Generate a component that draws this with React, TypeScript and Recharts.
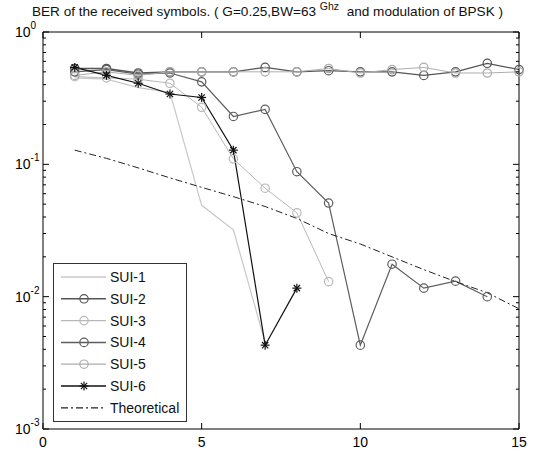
import { LineChart, Line, XAxis, YAxis } from 'recharts'

// SNR (x axis)
const snr = [1, 2, 3, 4, 5, 6, 7, 8, 9, 10, 11, 12, 13, 14, 15]

// BER, null = no point
const sui1 = [0.45, 0.44, 0.38, 0.35, 0.049, 0.032, 0.0045, null, null, null, null, null, null, null, null]
const sui2 = [0.53, 0.53, 0.49, 0.5, 0.5, 0.5, 0.54, 0.5, 0.51, 0.5, 0.5, 0.47, 0.5, 0.58, 0.52]
const sui3 = [0.46, 0.45, 0.44, 0.41, 0.27, 0.11, 0.066, 0.043, 0.013, null, null, null, null, null, null]
const sui4 = [0.5, 0.52, 0.48, 0.49, 0.42, 0.23, 0.26, 0.088, 0.051, 0.0043, 0.0176, 0.0116, 0.0131, 0.01, null]
const sui5 = [0.47, 0.5, 0.47, 0.5, 0.5, 0.5, 0.5, 0.5, 0.53, 0.49, 0.52, 0.54, 0.49, 0.49, 0.5]
const sui6 = [0.54, 0.47, 0.41, 0.34, 0.32, 0.128, 0.0043, 0.0116, null, null, null, null, null, null, null]
const theory = [0.128, 0.111, 0.094, 0.079, 0.067, 0.057, 0.048, 0.039, 0.03, 0.025, 0.02, 0.016, 0.013, 0.0107, 0.0081]

const xTicks = [0, 5, 10, 15]
const yMajor = [0.001, 0.01, 0.1, 1]
const yMinorSteps = [2, 3, 4, 5, 6, 7, 8, 9]
const yTicks = [
  ...yMajor,
  ...yMajor.slice(0, 3).flatMap((d) => yMinorSteps.map((m) => Number((d * m).toPrecision(3)))),
]

const data = snr.map((x, i) => ({
  x,
  sui1: sui1[i],
  sui2: sui2[i],
  sui3: sui3[i],
  sui4: sui4[i],
  sui5: sui5[i],
  sui6: sui6[i],
  theory: theory[i],
}))

// plot box, px
const LEFT = 43
const RIGHT = 519
const TOP = 32
const BOTTOM = 429
const FONT = '"Liberation Sans", Arial, sans-serif'

const series = [
  { key: 'sui1', name: 'SUI-1', color: '#c8c8c8', marker: 'none', width: 1.2 },
  { key: 'sui2', name: 'SUI-2', color: '#555555', marker: 'circle', width: 1.3 },
  { key: 'sui3', name: 'SUI-3', color: '#b8b8b8', marker: 'circle', width: 1 },
  { key: 'sui4', name: 'SUI-4', color: '#5e5e5e', marker: 'circle', width: 1.2 },
  { key: 'sui5', name: 'SUI-5', color: '#adadad', marker: 'circle', width: 1 },
  { key: 'sui6', name: 'SUI-6', color: '#111111', marker: 'star', width: 1.2 },
  { key: 'theory', name: 'Theoretical', color: '#222222', marker: 'none', width: 1, dash: '7 3 2 3' },
]

function Marker({ type, cx, cy, color }: any) {
  if (type === 'circle') {
    return <circle cx={cx} cy={cy} r={4.2} fill="none" stroke={color} strokeWidth={1.2} />
  }
  if (type === 'star') {
    const s = 4.5
    const d = s * 0.7
    return (
      <g stroke={color} strokeWidth={1.2}>
        <line x1={cx - s} x2={cx + s} y1={cy} y2={cy} />
        <line x1={cx} x2={cx} y1={cy - s} y2={cy + s} />
        <line x1={cx - d} x2={cx + d} y1={cy - d} y2={cy + d} />
        <line x1={cx - d} x2={cx + d} y1={cy + d} y2={cy - d} />
      </g>
    )
  }
  return null
}

function makeDot(type: string, color: string) {
  return (p: any) => {
    const k = `${type}-${color}-${p.index}`
    if (p.cx == null || p.cy == null || p.value == null) return <g key={k} />
    return (
      <g key={k}>
        <Marker type={type} cx={p.cx} cy={p.cy} color={color} />
      </g>
    )
  }
}

function LeftTick({ y, payload }: any) {
  const v = payload.value
  const major = yMajor.includes(v)
  return (
    <g>
      <line x1={LEFT} x2={LEFT + (major ? 6 : 3)} y1={y} y2={y} stroke="#000" />
      {major && (
        <text x={15} y={y + 5} fontSize={14} fill="#000" fontFamily={FONT}>
          10
          <tspan fontSize={10} dy={-8}>{Math.round(Math.log10(v))}</tspan>
        </text>
      )}
    </g>
  )
}

function RightTick({ y, payload }: any) {
  const major = yMajor.includes(payload.value)
  return <line x1={RIGHT} x2={RIGHT - (major ? 6 : 3)} y1={y} y2={y} stroke="#000" />
}

function BottomTick({ x, payload }: any) {
  return (
    <g>
      <line x1={x} x2={x} y1={BOTTOM} y2={BOTTOM - 6} stroke="#000" />
      <text x={x} y={447} textAnchor="middle" fontSize={14} fill="#000" fontFamily={FONT}>
        {payload.value}
      </text>
    </g>
  )
}

function TopTick({ x }: any) {
  return <line x1={x} x2={x} y1={TOP} y2={TOP + 6} stroke="#000" />
}

function LegendBox() {
  return (
    <svg width={134} height={159} style={{ display: 'block' }}>
      <rect x={0.5} y={0.5} width={133} height={158} fill="#fff" stroke="#333" />
      {series.map((s, i) => {
        const y = 14 + i * 21.8
        return (
          <g key={s.key}>
            <line x1={8} x2={53} y1={y} y2={y} stroke={s.color} strokeWidth={s.width + 0.3} strokeDasharray={s.dash} />
            <Marker type={s.marker} cx={31} cy={y} color={s.color} />
            <text x={57} y={y + 5} fontSize={14} fill="#111" fontFamily={FONT}>
              {s.name}
            </text>
          </g>
        )
      })}
    </svg>
  )
}

export default function App() {
  return (
    <div style={{ position: 'absolute', left: 0, top: 0, width: 533, height: 453, background: '#fff' }}>
      <div
        style={{
          position: 'absolute',
          left: 0,
          width: 535,
          top: 0,
          textAlign: 'center',
          fontFamily: FONT,
          fontSize: 13.6,
          color: '#111',
          whiteSpace: 'nowrap',
          zIndex: 2,
        }}
      >
        BER of the received symbols. ( G=0.25,BW=63 <sup style={{ fontSize: 10.5 }}>Ghz</sup>&nbsp; and modulation of BPSK )
      </div>
      <LineChart
        width={533}
        height={453}
        data={data}
        margin={{ top: TOP - 1, right: 533 - RIGHT - 1, bottom: 453 - BOTTOM - 1, left: LEFT - 1 }}
      >
        <XAxis
          xAxisId="bottom"
          dataKey="x"
          type="number"
          domain={[0, 15]}
          ticks={xTicks}
          interval={0}
          height={1}
          tickLine={false}
          axisLine={{ stroke: '#000' }}
          tick={<BottomTick />}
        />
        <XAxis
          xAxisId="top"
          orientation="top"
          dataKey="x"
          type="number"
          domain={[0, 15]}
          ticks={xTicks}
          interval={0}
          height={1}
          tickLine={false}
          axisLine={{ stroke: '#000' }}
          tick={<TopTick />}
        />
        <YAxis
          yAxisId="left"
          scale="log"
          domain={[0.001, 1]}
          allowDataOverflow
          ticks={yTicks}
          interval={0}
          width={1}
          tickLine={false}
          axisLine={{ stroke: '#000' }}
          tick={<LeftTick />}
        />
        <YAxis
          yAxisId="right"
          orientation="right"
          scale="log"
          domain={[0.001, 1]}
          allowDataOverflow
          ticks={yTicks}
          interval={0}
          width={1}
          tickLine={false}
          axisLine={{ stroke: '#000' }}
          tick={<RightTick />}
        />
        {series.map((s) => (
          <Line
            key={s.key}
            xAxisId="bottom"
            yAxisId="left"
            type="linear"
            dataKey={s.key}
            name={s.name}
            stroke={s.color}
            strokeWidth={s.width}
            strokeDasharray={s.dash}
            dot={s.marker === 'none' ? false : makeDot(s.marker, s.color)}
            activeDot={false}
            connectNulls={false}
            isAnimationActive={false}
          />
        ))}
      </LineChart>
      <div style={{ position: 'absolute', left: 53, top: 263 }}>
        <LegendBox />
      </div>
    </div>
  )
}
